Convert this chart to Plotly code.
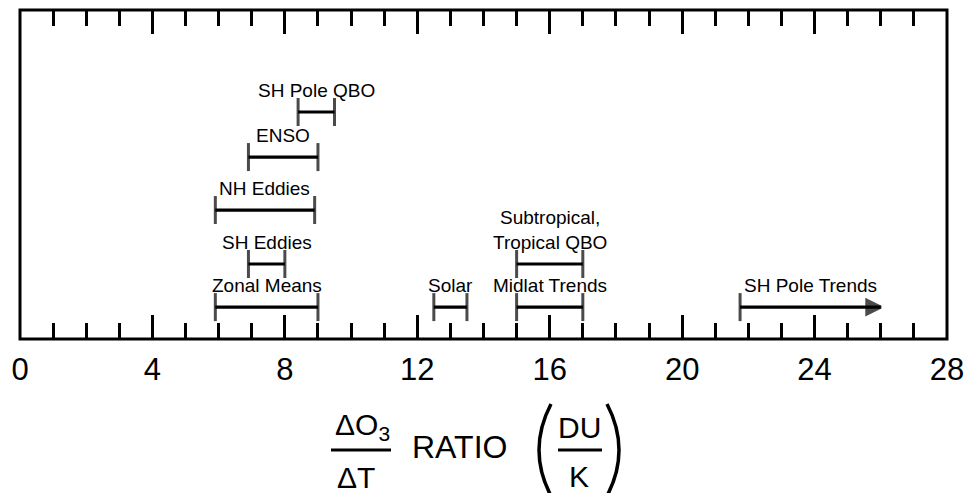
import plotly.graph_objects as go

# Ranges of the ozone / temperature ratio (DU per K) for each process
labels = ["SH Pole QBO", "ENSO", "NH Eddies", "SH Eddies", "Zonal Means",
          "Solar", "Midlat Trends", "Subtropical,<br>Tropical QBO", "SH Pole Trends"]
low = [8.4, 6.9, 5.9, 6.9, 5.9, 12.5, 15.0, 15.0, 21.75]
high = [9.5, 9.0, 8.9, 8.0, 9.0, 13.5, 17.0, 17.0, 26.0]
row = [4, 3, 2, 1, 0, 0, 0, 1, 0]
open_ended = [False, False, False, False, False, False, False, False, True]

tick_values = [0, 4, 8, 12, 16, 20, 24, 28]

# vertical placement of each row inside the frame (fraction of plot height)
row_y = [0.097, 0.228, 0.392, 0.553, 0.690]

FONT = "Liberation Sans, Arial, Helvetica, sans-serif"
W, H = 967, 493
ML, MR, MT, MB = 20, 20, 10, 154

fig = go.Figure()
annotations = []
for name, a, b, r, arrow in zip(labels, low, high, row, open_ended):
    y = row_y[r]
    fig.add_trace(go.Scatter(
        x=[a, b], y=[y, y], mode="lines+markers",
        line=dict(color="black", width=3.2),
        marker=dict(symbol=["line-ns", "arrow-right" if arrow else "line-ns"],
                    size=[20, 14 if arrow else 20], color="black",
                    line=dict(color="black", width=3)),
        hoverinfo="skip", showlegend=False, cliponaxis=False))
    annotations.append(dict(
        x=(a + b) / 2, y=y, xref="x", yref="y", text=name, showarrow=False,
        xanchor="center", yanchor="bottom", yshift=9,
        font=dict(family=FONT, size=19, color="black")))

pw = W - ML - MR
ph = H - MT - MB


def px(x):
    return (x - ML) / pw


def py(y):
    return (H - MB - y) / ph


title_font = dict(family=FONT, size=30, color="black")
annotations += [
    dict(x=px(362), y=py(426), xref="paper", yref="paper", text="ΔO<sub>3</sub>",
         showarrow=False, xanchor="center", yanchor="middle", font=title_font),
    dict(x=px(356), y=py(477), xref="paper", yref="paper", text="ΔT",
         showarrow=False, xanchor="center", yanchor="middle", font=title_font),
    dict(x=px(459), y=py(447), xref="paper", yref="paper", text="RATIO",
         showarrow=False, xanchor="center", yanchor="middle",
         font=dict(family=FONT, size=32, color="black")),
    dict(x=px(579), y=py(428), xref="paper", yref="paper", text="DU",
         showarrow=False, xanchor="center", yanchor="middle", font=title_font),
    dict(x=px(579), y=py(476), xref="paper", yref="paper", text="K",
         showarrow=False, xanchor="center", yanchor="middle", font=title_font),
]

shapes = [
    # frame
    dict(type="rect", xref="paper", yref="paper", x0=0, x1=1, y0=0, y1=1,
         line=dict(color="black", width=3), layer="above"),
    # fraction bars
    dict(type="line", xref="paper", yref="paper", x0=px(331), x1=px(391),
         y0=py(450), y1=py(450), line=dict(color="black", width=3)),
    dict(type="line", xref="paper", yref="paper", x0=px(558), x1=px(602),
         y0=py(450), y1=py(450), line=dict(color="black", width=3)),
    # parentheses
    dict(type="path", xref="paper", yref="paper",
         path=f"M {px(551)},{py(404)} Q {px(527)},{py(450)} {px(551)},{py(496)}",
         line=dict(color="black", width=3.5)),
    dict(type="path", xref="paper", yref="paper",
         path=f"M {px(607)},{py(404)} Q {px(631)},{py(450)} {px(607)},{py(496)}",
         line=dict(color="black", width=3.5)),
]

fig.update_layout(
    width=W, height=H, margin=dict(l=ML, r=MR, t=MT, b=MB, autoexpand=False),
    paper_bgcolor="white", plot_bgcolor="white",
    annotations=annotations, shapes=shapes,
    xaxis=dict(range=[0, 28], tickvals=tick_values, ticks="inside", ticklen=24,
               tickwidth=2.5, tickcolor="black", mirror="ticks", showline=False,
               showgrid=False, zeroline=False, ticklabelstandoff=9,
               automargin=False,
               tickfont=dict(family=FONT, size=31, color="black"),
               minor=dict(dtick=1, tick0=0, ticks="inside", ticklen=16,
                          tickwidth=2.5, tickcolor="black", showgrid=False)),
    yaxis=dict(range=[0, 1], visible=False, showgrid=False, zeroline=False,
               fixedrange=True, automargin=False),
)

fig.write_html("out.html")
